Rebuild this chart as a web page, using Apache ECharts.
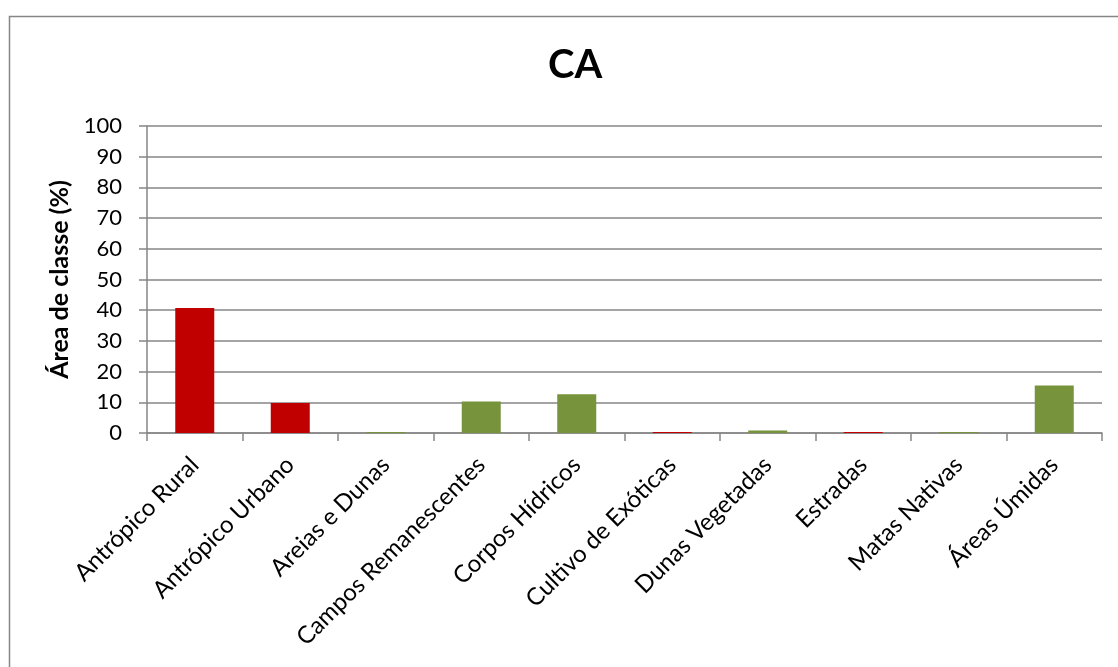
<!DOCTYPE html>
<html>
<head>
<meta charset="utf-8">
<script src="https://cdn.jsdelivr.net/npm/echarts@6/dist/echarts.min.js"></script>
<style>
html,body{margin:0;padding:0;background:#fff;}
#chart{width:1118px;height:667px;}
</style>
</head>
<body>
<div id="chart"></div>
<script>
const categories = ["Antrópico Rural","Antrópico Urbano","Areias e Dunas","Campos Remanescentes","Corpos Hídricos","Cultivo de Exóticas","Dunas Vegetadas","Estradas","Matas Nativas","Áreas Úmidas"];
const values = [40.7, 9.8, 0.3, 10.3, 12.6, 0.3, 0.8, 0.3, 0.3, 15.5];
const barColors = ["#C00000","#C00000","#77933C","#77933C","#77933C","#C00000","#77933C","#C00000","#77933C","#77933C"];
const yTicks = [0,10,20,30,40,50,60,70,80,90,100];
const titleText = "CA";
const yAxisName = "Área de classe (%)";

const FONT = "Lato";
const chart = echarts.init(document.getElementById('chart'), null, {renderer:'canvas'});
chart.setOption({
  animation:false,
  backgroundColor:'#ffffff',
  graphic:[{
    type:'rect', left:7, top:14, z:-1,
    shape:{width:1200, height:700},
    style:{fill:'none', stroke:'#868686', lineWidth:1.5}
  }],
  title:{
    text:titleText, left:543, top:40,
    textStyle:{fontFamily:FONT, fontSize:40, fontWeight:'bold', color:'#000'}
  },
  grid:{left:147, right:16, top:126, bottom:234, containLabel:false},
  xAxis:{
    type:'category', data:categories,
    axisLine:{lineStyle:{color:'#868686', width:1.5}},
    axisTick:{show:true, alignWithLabel:false, length:8, lineStyle:{color:'#868686', width:1.5}},
    axisLabel:{rotate:45, interval:0, margin:28, fontFamily:FONT, fontSize:24, color:'#000'}
  },
  yAxis:{
    type:'value', min:yTicks[0], max:yTicks[yTicks.length-1], interval:10,
    name:yAxisName, nameLocation:'middle', nameGap:70, nameRotate:90,
    nameTextStyle:{fontFamily:FONT, fontSize:25, fontWeight:'bold', color:'#000'},
    axisLine:{show:true, lineStyle:{color:'#868686', width:1.5}},
    axisTick:{show:true, length:8, lineStyle:{color:'#868686', width:1.5}},
    axisLabel:{margin:25, fontFamily:FONT, fontSize:22, color:'#000'},
    splitLine:{show:true, lineStyle:{color:'#868686', width:1.5}}
  },
  series:[{
    type:'bar', barWidth:39,
    data:values.map((v,i)=>({value:v, itemStyle:{color:barColors[i]}}))
  }]
});
</script>
</body>
</html>
